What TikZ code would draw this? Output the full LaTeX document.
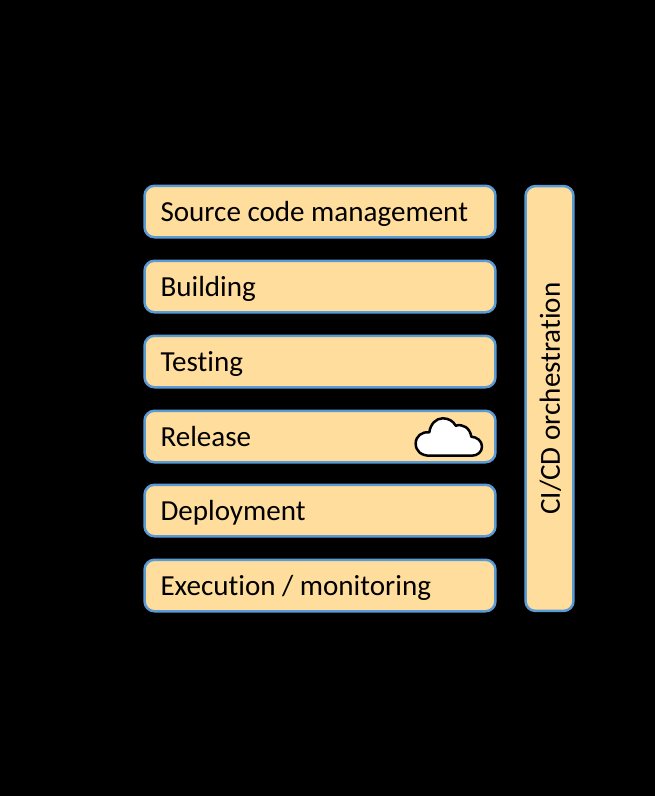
\documentclass[tikz,border=0pt]{standalone}
\usepackage{fontspec}
\setmainfont[Ligatures=NoCommon]{Carlito}
\definecolor{stagefill}{HTML}{FFDD9C}
\definecolor{stageline}{HTML}{5B9BD5}
\tikzset{
	stagebox/.style={draw=stageline, fill=stagefill, line width=0.05cm, rounded corners=0.2cm,
		minimum width=7.02cm, minimum height=1.03cm, inner xsep=0.32cm, inner ysep=0cm, text width=6.38cm,
		text height=0.46cm, text depth=0.08cm, align=flush left, font=\fontsize{16.55}{19}\selectfont},
	orchbox/.style={stagebox, minimum width=8.5cm, minimum height=0.96cm, text width=7.86cm,
		text height=0.48cm, text depth=0.06cm, align=flush center, rotate=90}
}
\begin{document}
\begin{tikzpicture}[x=0.02cm,y=-0.02cm]
	% background
	\fill[black] (0,0) rectangle (655,796);
	\useasboundingbox (0,0) rectangle (655,796);
	% stages
	\node[stagebox] (source) at (320,211.5) {Source code management};
	\node[stagebox] (building) at (320,286.5) {Building};
	\node[stagebox] (testing) at (320,361.5) {Testing};
	\node[stagebox] (release) at (320,436.5) {Release};
	\node[stagebox] (deployment) at (320,510.5) {Deployment};
	\node[stagebox] (execution) at (320,585.5) {Execution / monitoring};
	% orchestration
	\node[orchbox] (orchestration) at (549.5,398.5) {CI/CD orchestration};
	% cloud
	\draw[fill=white, line width=0.05cm, line join=round]
		(430,455.7) .. controls (421,455.7) and (415.7,451) .. (415.7,443.5)
		.. controls (415.7,436) and (422,431.5) .. (429.3,432.3)
		.. controls (430.5,424) and (436,418.3) .. (442.7,418.3)
		.. controls (449,418.3) and (453.5,421.5) .. (455.7,425.7)
		.. controls (463,423.5) and (470,428) .. (471.3,436.7)
		.. controls (477,437) and (482,441) .. (482,446.5)
		.. controls (482,452) and (477.5,455.7) .. (471.7,455.7) -- cycle;
\end{tikzpicture}
\end{document}
